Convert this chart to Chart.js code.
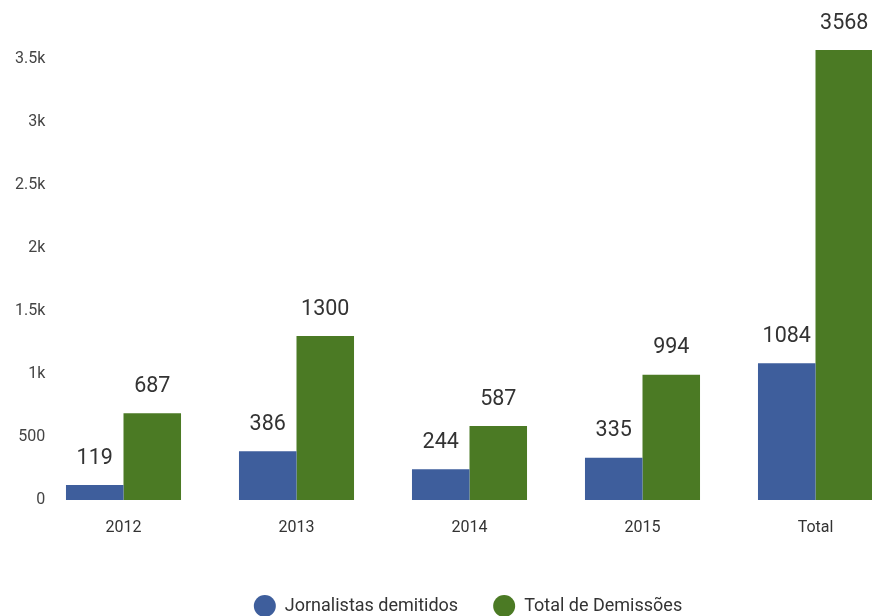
<!DOCTYPE html>
<html>
<head>
<meta charset="utf-8">
<script src="https://cdn.jsdelivr.net/npm/chart.js@4"></script>
<style>
    html, body { margin: 0; padding: 0; background: #fff; overflow: hidden; }
    #wrap { width: 902px; height: 616px; position: relative; }
</style>
</head>
<body>
<div id="wrap"><canvas id="chart"></canvas></div>
<script>
// values
const categories = ['2012', '2013', '2014', '2015', 'Total'];
const jornalistas = [119, 386, 244, 335, 1084];
const totalDemissoes = [687, 1300, 587, 994, 3568];
const seriesNames = ['Jornalistas demitidos', 'Total de Demissões'];
const yTicks = [0, 500, 1000, 1500, 2000, 2500, 3000, 3500];

const BLUE = '#3e5e9c';
const GREEN = '#4b7a24';
const FONT = 'Roboto, "Noto Sans", sans-serif';

// draws the value above each bar
const valueLabels = {
    id: 'valueLabels',
    afterDatasetsDraw(chart) {
        const ctx = chart.ctx;
        ctx.save();
        ctx.font = '21.5px ' + FONT;
        ctx.fillStyle = '#333';
        ctx.textAlign = 'center';
        ctx.textBaseline = 'bottom';
        chart.data.datasets.forEach((ds, i) => {
            chart.getDatasetMeta(i).data.forEach((bar, j) => {
                ctx.fillText(String(ds.data[j]), bar.x, bar.y - 16);
            });
        });
        ctx.restore();
    }
};

// legend in the reference sits a bit right of the canvas centre
const legendShift = {
    id: 'legendShift',
    afterLayout(chart) {
        chart.legend.left += 17;
        chart.legend.right += 17;
    }
};

new Chart(document.getElementById('chart'), {
    type: 'bar',
    data: {
        labels: categories,
        datasets: [
            { label: seriesNames[0], data: jornalistas, backgroundColor: BLUE },
            { label: seriesNames[1], data: totalDemissoes, backgroundColor: GREEN }
        ]
    },
    options: {
        responsive: true,
        maintainAspectRatio: false,
        animation: false,
        categoryPercentage: 0.665,
        barPercentage: 1,
        layout: { padding: { top: 50, bottom: -9, left: 0, right: 0 } },
        plugins: {
            tooltip: { enabled: false },
            legend: {
                position: 'bottom',
                labels: {
                    usePointStyle: true,
                    pointStyle: 'circle',
                    pointStyleWidth: 22,
                    boxHeight: 15.5,
                    padding: 35,
                    color: '#333',
                    font: { family: FONT, size: 18 }
                }
            }
        },
        scales: {
            x: {
                grid: { display: false, drawTicks: false },
                border: { display: false },
                ticks: { color: '#333', padding: 18, font: { family: FONT, size: 16 } },
                afterFit: (s) => { s.height = 62; }
            },
            y: {
                min: 0,
                max: Math.max(...totalDemissoes),
                grid: { display: false, drawTicks: false },
                border: { display: false },
                afterBuildTicks: (s) => { s.ticks = yTicks.map(v => ({ value: v })); },
                afterFit: (s) => { s.width = 37; },
                ticks: {
                    autoSkip: false,
                    mirror: true,
                    crossAlign: 'far',
                    padding: -22,
                    color: '#444',
                    font: { family: FONT, size: 16 },
                    callback: (v) => v >= 1000 ? (v / 1000) + 'k' : v
                }
            }
        }
    },
    plugins: [valueLabels, legendShift]
});
</script>
</body>
</html>
